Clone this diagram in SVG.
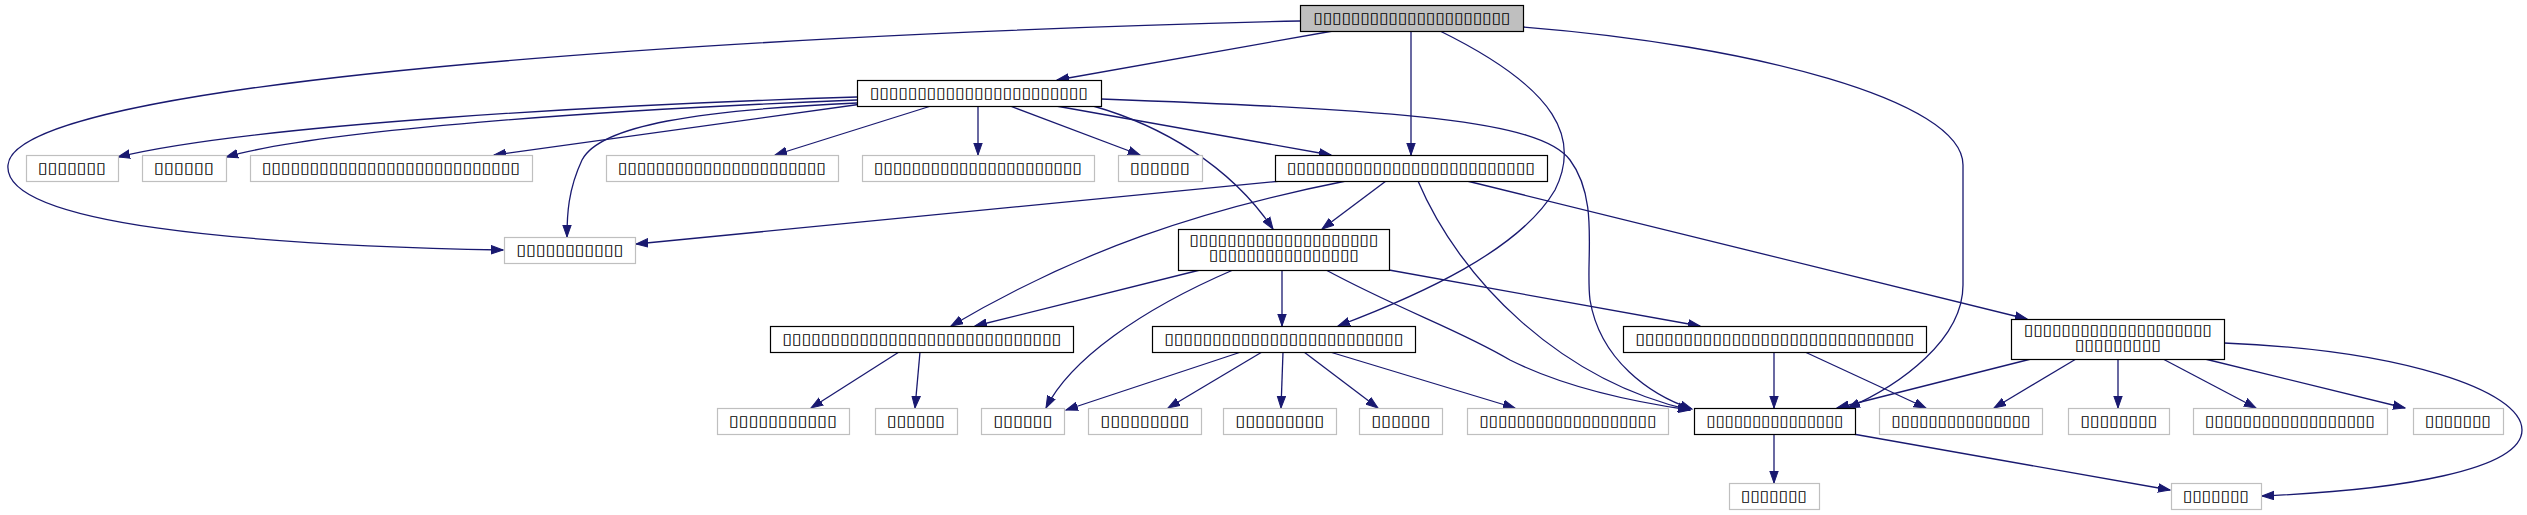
<svg xmlns="http://www.w3.org/2000/svg" width="2527" height="515" viewBox="0 0 2527 515">
<style>
  .g rect{fill:#fff;stroke:#bfbfbf;stroke-width:1.2}
  .b rect{fill:#fff;stroke:#000;stroke-width:1.2}
  .t rect{fill:#bfbfbf;stroke:#000;stroke-width:1.2}
  text{font-family:"DejaVu Sans",sans-serif;font-size:15px;fill:#000;text-anchor:middle}
  #edges path{fill:none;stroke:#191970;stroke-width:1.3;marker-end:url(#ah)}
</style>
<defs>
  <marker id="ah" markerWidth="13" markerHeight="10" refX="12" refY="5" orient="auto" markerUnits="userSpaceOnUse">
    <path d="M0,0.8 L12,5 L0,9.2 z" fill="#191970" stroke="#191970" stroke-width="1"/>
  </marker>
</defs>
<rect width="2527" height="515" fill="#fff"/>
<g id="edges">
  <path d="M1300,21 C900,30 16,70 8,165 C2,225 250,245 503,250"/>
  <path d="M1333,31 L1057,80"/>
  <path d="M1411,31 L1411,155"/>
  <path d="M1440,31 C1560,90 1580,140 1555,190 C1520,250 1420,295 1338,326"/>
  <path d="M1523,27 C1750,45 1963,100 1963,165 L1963,285 C1963,340 1900,385 1848,408"/>
  <path d="M857,97 C600,105 250,125 118,157"/>
  <path d="M857,100 C600,110 320,130 226,157"/>
  <path d="M862,104 L494,155"/>
  <path d="M857,103 C700,110 600,125 582,160 C568,190 567,215 567,237"/>
  <path d="M931,106 L775,155"/>
  <path d="M978,106 L978,155"/>
  <path d="M1010,106 L1140,155"/>
  <path d="M1056,106 L1331,155"/>
  <path d="M1093,106 C1160,125 1230,165 1273,229"/>
  <path d="M1101,99 C1400,110 1540,120 1570,160 C1600,200 1585,260 1590,300 C1600,360 1650,395 1692,409"/>
  <path d="M1281,181 L636,244"/>
  <path d="M1386,181 L1322,229"/>
  <path d="M1346,181 C1200,210 1080,250 951,326"/>
  <path d="M1418,181 C1460,280 1560,380 1690,410"/>
  <path d="M1467,181 L2027,319"/>
  <path d="M1200,270 L975,326"/>
  <path d="M1233,270 C1140,310 1070,360 1046,408"/>
  <path d="M1282,270 L1282,326"/>
  <path d="M1326,270 C1400,310 1460,330 1510,360 C1560,385 1620,400 1690,410"/>
  <path d="M1389,270 L1700,326"/>
  <path d="M899,352 L811,408"/>
  <path d="M920,352 L915,408"/>
  <path d="M1241,352 L1066,410"/>
  <path d="M1262,352 L1168,408"/>
  <path d="M1283,352 L1281,408"/>
  <path d="M1304,352 L1378,408"/>
  <path d="M1330,352 L1515,408"/>
  <path d="M1774,352 L1774,408"/>
  <path d="M1805,352 L1926,408"/>
  <path d="M2031,359 L1837,408"/>
  <path d="M2076,359 L1994,408"/>
  <path d="M2118,359 L2118,408"/>
  <path d="M2163,359 L2256,408"/>
  <path d="M2205,359 L2405,408"/>
  <path d="M2224,343 C2400,350 2522,390 2522,430 C2522,470 2400,490 2262,496"/>
  <path d="M1774,434 L1774,483"/>
  <path d="M1853,434 L2170,490"/>
</g>
<g id="nT" class="t"><rect x="1300.5" y="5.5" width="223" height="26"/><text x="1412" y="23" textLength="197" lengthAdjust="spacingAndGlyphs">▯▯▯▯▯▯▯▯▯▯▯▯▯▯▯▯▯▯▯▯▯</text></g>
<g id="nA" class="b"><rect x="857.5" y="80.5" width="244" height="26"/><text x="979" y="98" textLength="218" lengthAdjust="spacingAndGlyphs">▯▯▯▯▯▯▯▯▯▯▯▯▯▯▯▯▯▯▯▯▯▯▯</text></g>
<g id="n1" class="g"><rect x="26.5" y="155.5" width="92" height="26"/><text x="72" y="173" textLength="68" lengthAdjust="spacingAndGlyphs">▯▯▯▯▯▯▯</text></g>
<g id="n2" class="g"><rect x="142.5" y="155.5" width="84" height="26"/><text x="184" y="173" textLength="60" lengthAdjust="spacingAndGlyphs">▯▯▯▯▯▯</text></g>
<g id="n3" class="g"><rect x="250.5" y="155.5" width="282" height="26"/><text x="391" y="173" textLength="258" lengthAdjust="spacingAndGlyphs">▯▯▯▯▯▯▯▯▯▯▯▯▯▯▯▯▯▯▯▯▯▯▯▯▯▯▯</text></g>
<g id="n4" class="g"><rect x="606.5" y="155.5" width="232" height="26"/><text x="722" y="173" textLength="208" lengthAdjust="spacingAndGlyphs">▯▯▯▯▯▯▯▯▯▯▯▯▯▯▯▯▯▯▯▯▯▯</text></g>
<g id="n5" class="g"><rect x="862.5" y="155.5" width="232" height="26"/><text x="978" y="173" textLength="208" lengthAdjust="spacingAndGlyphs">▯▯▯▯▯▯▯▯▯▯▯▯▯▯▯▯▯▯▯▯▯▯</text></g>
<g id="n6" class="g"><rect x="1118.5" y="155.5" width="84" height="26"/><text x="1160" y="173" textLength="60" lengthAdjust="spacingAndGlyphs">▯▯▯▯▯▯</text></g>
<g id="nB" class="b"><rect x="1275.5" y="155.5" width="272" height="26"/><text x="1411" y="173" textLength="248" lengthAdjust="spacingAndGlyphs">▯▯▯▯▯▯▯▯▯▯▯▯▯▯▯▯▯▯▯▯▯▯▯▯▯▯</text></g>
<g id="n7" class="g"><rect x="504.5" y="237.5" width="131" height="26"/><text x="570" y="255" textLength="107" lengthAdjust="spacingAndGlyphs">▯▯▯▯▯▯▯▯▯▯▯</text></g>
<g id="nC" class="b"><rect x="1178.5" y="229.5" width="211" height="41"/><text x="1284" y="245" textLength="189" lengthAdjust="spacingAndGlyphs">▯▯▯▯▯▯▯▯▯▯▯▯▯▯▯▯▯▯▯▯</text><text x="1284" y="260" textLength="150" lengthAdjust="spacingAndGlyphs">▯▯▯▯▯▯▯▯▯▯▯▯▯▯▯▯</text></g>
<g id="nD" class="b"><rect x="770.5" y="326.5" width="303" height="26"/><text x="922" y="344" textLength="279" lengthAdjust="spacingAndGlyphs">▯▯▯▯▯▯▯▯▯▯▯▯▯▯▯▯▯▯▯▯▯▯▯▯▯▯▯▯▯</text></g>
<g id="nE" class="b"><rect x="1152.5" y="326.5" width="263" height="26"/><text x="1284" y="344" textLength="239" lengthAdjust="spacingAndGlyphs">▯▯▯▯▯▯▯▯▯▯▯▯▯▯▯▯▯▯▯▯▯▯▯▯▯</text></g>
<g id="nF" class="b"><rect x="1623.5" y="326.5" width="303" height="26"/><text x="1775" y="344" textLength="279" lengthAdjust="spacingAndGlyphs">▯▯▯▯▯▯▯▯▯▯▯▯▯▯▯▯▯▯▯▯▯▯▯▯▯▯▯▯▯</text></g>
<g id="nG" class="b"><rect x="2011.5" y="319.5" width="213" height="40"/><text x="2118" y="335" textLength="188" lengthAdjust="spacingAndGlyphs">▯▯▯▯▯▯▯▯▯▯▯▯▯▯▯▯▯▯▯▯</text><text x="2118" y="350" textLength="86" lengthAdjust="spacingAndGlyphs">▯▯▯▯▯▯▯▯▯</text></g>
<g id="r1" class="g"><rect x="717.5" y="408.5" width="132" height="26"/><text x="783" y="426" textLength="108" lengthAdjust="spacingAndGlyphs">▯▯▯▯▯▯▯▯▯▯▯</text></g>
<g id="r2" class="g"><rect x="875.5" y="408.5" width="82" height="26"/><text x="916" y="426" textLength="58" lengthAdjust="spacingAndGlyphs">▯▯▯▯▯▯</text></g>
<g id="r3" class="g"><rect x="981.5" y="408.5" width="83" height="26"/><text x="1023" y="426" textLength="59" lengthAdjust="spacingAndGlyphs">▯▯▯▯▯▯</text></g>
<g id="r4" class="g"><rect x="1088.5" y="408.5" width="113" height="26"/><text x="1145" y="426" textLength="89" lengthAdjust="spacingAndGlyphs">▯▯▯▯▯▯▯▯▯</text></g>
<g id="r5" class="g"><rect x="1223.5" y="408.5" width="113" height="26"/><text x="1280" y="426" textLength="89" lengthAdjust="spacingAndGlyphs">▯▯▯▯▯▯▯▯▯</text></g>
<g id="r6" class="g"><rect x="1359.5" y="408.5" width="83" height="26"/><text x="1401" y="426" textLength="59" lengthAdjust="spacingAndGlyphs">▯▯▯▯▯▯</text></g>
<g id="r7" class="g"><rect x="1467.5" y="408.5" width="201" height="26"/><text x="1568" y="426" textLength="177" lengthAdjust="spacingAndGlyphs">▯▯▯▯▯▯▯▯▯▯▯▯▯▯▯▯▯▯▯</text></g>
<g id="nH" class="b"><rect x="1694.5" y="408.5" width="161" height="26"/><text x="1775" y="426" textLength="137" lengthAdjust="spacingAndGlyphs">▯▯▯▯▯▯▯▯▯▯▯▯▯▯▯</text></g>
<g id="r8" class="g"><rect x="1879.5" y="408.5" width="163" height="26"/><text x="1961" y="426" textLength="139" lengthAdjust="spacingAndGlyphs">▯▯▯▯▯▯▯▯▯▯▯▯▯▯▯</text></g>
<g id="r9" class="g"><rect x="2068.5" y="408.5" width="101" height="26"/><text x="2119" y="426" textLength="77" lengthAdjust="spacingAndGlyphs">▯▯▯▯▯▯▯▯</text></g>
<g id="r10" class="g"><rect x="2193.5" y="408.5" width="194" height="26"/><text x="2290" y="426" textLength="170" lengthAdjust="spacingAndGlyphs">▯▯▯▯▯▯▯▯▯▯▯▯▯▯▯▯▯▯</text></g>
<g id="r11" class="g"><rect x="2413.5" y="408.5" width="90" height="26"/><text x="2458" y="426" textLength="66" lengthAdjust="spacingAndGlyphs">▯▯▯▯▯▯▯</text></g>
<g id="b1" class="g"><rect x="1729.5" y="483.5" width="90" height="26"/><text x="1774" y="501" textLength="66" lengthAdjust="spacingAndGlyphs">▯▯▯▯▯▯▯</text></g>
<g id="b2" class="g"><rect x="2171.5" y="483.5" width="90" height="26"/><text x="2216" y="501" textLength="66" lengthAdjust="spacingAndGlyphs">▯▯▯▯▯▯▯</text></g>
</svg>
